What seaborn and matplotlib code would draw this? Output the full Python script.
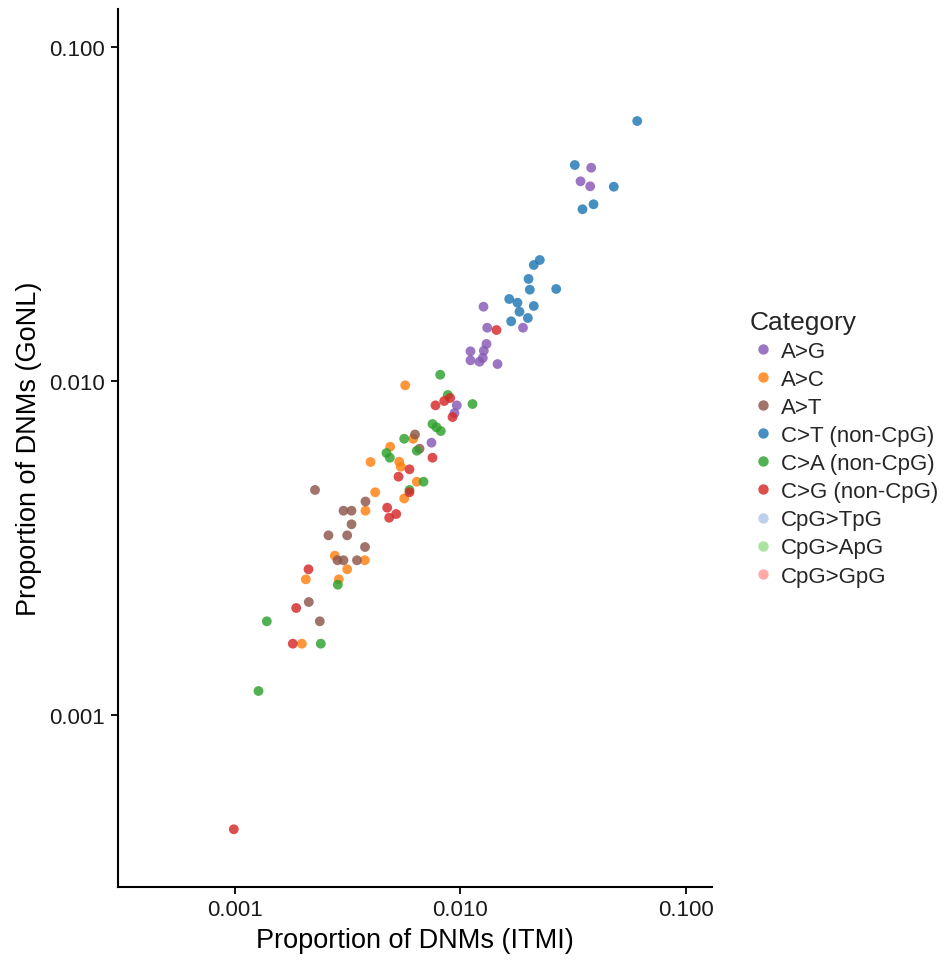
import matplotlib
matplotlib.use("Agg")
import matplotlib.pyplot as plt
from matplotlib.lines import Line2D
import seaborn as sns
import pandas as pd
import numpy as np

categories = ["A>G", "A>C", "A>T", "C>T (non-CpG)", "C>A (non-CpG)", "C>G (non-CpG)",
              "CpG>TpG", "CpG>ApG", "CpG>GpG"]
colors = ["#8758b5", "#ff7f0e", "#8c564b", "#1f77b4", "#2ca02c", "#d62728",
          "#aec7e8", "#98df8a", "#ff9896"]

# A>G
ag_x = [0.03787, 0.03396, 0.03749, 0.01264, 0.01313, 0.01890, 0.01303, 0.01107,
        0.01268, 0.01107, 0.01214, 0.01255, 0.01458, 0.009630, 0.009408, 0.007440]
ag_y = [0.04351, 0.03962, 0.03827, 0.01669, 0.01444, 0.01444, 0.01291, 0.01227,
        0.01232, 0.01153, 0.01142, 0.01172, 0.01124, 0.008455, 0.008019, 0.006535]
# A>C
ac_x = [0.005693, 0.006177, 0.004885, 0.003998, 0.005355, 0.005442, 0.006407, 0.005636,
        0.004194, 0.003798, 0.002779, 0.003771, 0.003152, 0.002068, 0.002894, 0.001986]
ac_y = [0.009707, 0.006716, 0.006357, 0.005721, 0.005733, 0.005538, 0.004994, 0.004449,
        0.004644, 0.004089, 0.002999, 0.002906, 0.002731, 0.002548, 0.002548, 0.001635]
# A>T
at_x = [0.006291, 0.006587, 0.002271, 0.003798, 0.003035, 0.003294, 0.003294, 0.002605,
        0.003152, 0.003779, 0.002856, 0.003035, 0.003483, 0.002132, 0.002384]
at_y = [0.006915, 0.006270, 0.004718, 0.004357, 0.004089, 0.004089, 0.003724, 0.003451,
        0.003451, 0.003184, 0.002906, 0.002906, 0.002906, 0.002179, 0.001908]
# C>T (non-CpG)
ct_x = [0.06052, 0.03204, 0.04768, 0.03878, 0.03466, 0.02243, 0.02110, 0.02000,
        0.02026, 0.02651, 0.01643, 0.01787, 0.02110, 0.01824, 0.01986, 0.01676]
ct_y = [0.06003, 0.04433, 0.03817, 0.03381, 0.03267, 0.02303, 0.02225, 0.02021,
        0.01877, 0.01886, 0.01760, 0.01715, 0.01677, 0.01612, 0.01544, 0.01509]
# C>A (non-CpG)
ca_x = [0.008133, 0.008787, 0.01130, 0.007516, 0.007830, 0.008182, 0.005636, 0.006407,
        0.004705, 0.004866, 0.006862, 0.005946, 0.002865, 0.001390, 0.002409, 0.001277]
ca_y = [0.01044, 0.009081, 0.008532, 0.007433, 0.007266, 0.007083, 0.006716, 0.006184,
        0.006087, 0.005893, 0.004994, 0.004718, 0.002455, 0.001908, 0.001635, 0.001180]
# C>G (non-CpG)
cg_x = [0.01443, 0.009003, 0.008472, 0.007750, 0.009218, 0.007516, 0.005946, 0.005317,
        0.005946, 0.004739, 0.005194, 0.004836, 0.002125, 0.001875, 0.001811, 0.0009929]
cg_y = [0.01421, 0.008894, 0.008711, 0.008455, 0.007800, 0.005893, 0.005440, 0.005170,
        0.004644, 0.004175, 0.003997, 0.003896, 0.002731, 0.002091, 0.001635, 0.0004548]

series = [("A>G", ag_x, ag_y), ("A>C", ac_x, ac_y), ("A>T", at_x, at_y),
          ("C>T (non-CpG)", ct_x, ct_y), ("C>A (non-CpG)", ca_x, ca_y),
          ("C>G (non-CpG)", cg_x, cg_y)]
rows = []
for name, xs, ys in series:
    for a, b in zip(xs, ys):
        rows.append({"ITMI": a, "GoNL": b, "Category": name})
df = pd.DataFrame(rows)

sns.set_theme(style="ticks")
plt.rcParams["font.family"] = ["Liberation Sans", "DejaVu Sans"]

fig = plt.figure(figsize=(9.48, 9.62), dpi=100)
ax = fig.add_axes([117.5 / 948, 1 - 888 / 962, (712 - 117.5) / 948, (888 - 10) / 962])

palette = dict(zip(categories, colors))
sns.scatterplot(data=df, x="ITMI", y="GoNL", hue="Category", hue_order=categories,
                palette=palette, s=50, alpha=0.82, linewidth=0, ax=ax, legend=False)

ax.set_xscale("log")
ax.set_yscale("log")
x0 = 10 ** (-3 - (234.5 - 117.5) / 226)
x1 = 10 ** (-3 + (712 - 234.5) / 226)
y0 = 10 ** (-3 - (888 - 716) / 334)
y1 = 10 ** (-1 + (48 - 10) / 334)
ax.set_xlim(x0, x1)
ax.set_ylim(y0, y1)
ticks = [0.001, 0.010, 0.100]
tick_labels = ["0.001", "0.010", "0.100"]
ax.set_xticks(ticks)
ax.set_xticklabels(tick_labels)
ax.set_yticks(ticks)
ax.set_yticklabels(tick_labels)
ax.minorticks_off()
ax.tick_params(axis="both", which="major", length=5, width=1.3, color="black",
               labelsize=16, labelcolor="#1a1a1a", pad=4)
for side in ["top", "right"]:
    ax.spines[side].set_visible(False)
for side in ["left", "bottom"]:
    ax.spines[side].set_linewidth(1.5)
    ax.spines[side].set_color("black")

ax.set_xlabel("Proportion of DNMs (ITMI)", fontsize=19.5, color="black", labelpad=5)
ax.set_ylabel("Proportion of DNMs (GoNL)", fontsize=19.5, color="black", labelpad=5)

handles = [Line2D([], [], marker="o", linestyle="", color=c, alpha=0.82,
                  markersize=7.5, markeredgewidth=0) for c in colors]
leg = fig.legend(handles, categories, title="Category", loc="upper left",
                 bbox_to_anchor=(734 / 948, 1 - 295 / 962), frameon=False,
                 fontsize=16, title_fontsize=19, handletextpad=0.2,
                 labelspacing=0.32, handlelength=1.2, borderpad=0.2)
leg._legend_box.align = "left"

fig.savefig("out.png", dpi=100)
